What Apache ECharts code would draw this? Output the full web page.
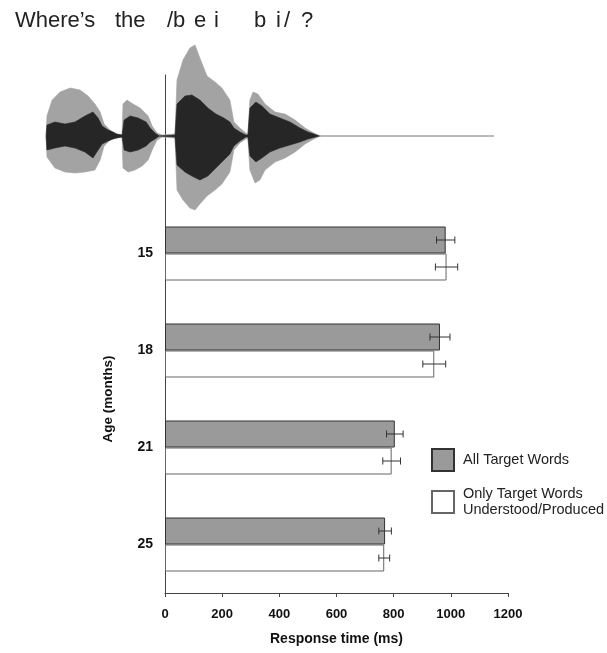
<!DOCTYPE html>
<html>
<head>
<meta charset="utf-8">
<script src="https://cdn.jsdelivr.net/npm/echarts@6/dist/echarts.min.js"></script>
<style>html,body{margin:0;padding:0;background:#fff}#c{width:607px;height:653px}</style>
</head>
<body>
<div id="c"></div>
<script>
// ---- Data ----
const ages = ['15', '18', '21', '25'];
const allWords = [982, 962, 804, 770];
const allWordsErr = [32, 35, 29, 22];
const onlyWords = [985, 942, 793, 767];
const onlyWordsErr = [39, 40, 31, 19];
const xTicks = [0, 200, 400, 600, 800, 1000, 1200];
const titleParts = ['Where\u2019s', 'the', '/b', 'e', 'i', 'b', 'i', '/', '?'];

// waveform envelope of "Where's the /beibi/?" (time in ms relative to word onset, amplitude in arbitrary units)
const lightUpper = [[-416,0],[-413,20],[-395,36],[-367,44],[-332,48],[-297,46],[-269,40],[-245,32],[-227,24],[-213,12],[-192,6],[-175,2],[-157,1],[-150,2],[-147,32],[-133,36],[-112,32],[-87,28],[-59,20],[-45,10],[-28,3],[-10,1],[35,2],[42,56],[63,76],[87,88],[105,91],[122,78],[147,60],[175,54],[199,48],[227,36],[241,14],[262,8],[283,3],[290,2],[297,36],[308,44],[325,42],[350,32],[385,24],[420,22],[455,16],[490,8],[514,4],[535,1],[545,0]];
const lightLower = [[-416,0],[-413,-21],[-385,-32],[-350,-36],[-315,-37],[-280,-36],[-245,-34],[-227,-24],[-213,-10],[-192,-4],[-175,-2],[-157,-1],[-150,-2],[-147,-32],[-129,-36],[-105,-34],[-80,-30],[-59,-24],[-45,-14],[-28,-4],[-10,-1],[35,-2],[42,-54],[63,-64],[87,-72],[105,-74],[122,-68],[147,-60],[175,-54],[199,-48],[227,-36],[241,-14],[262,-7],[283,-3],[290,-2],[297,-34],[315,-47],[332,-44],[350,-34],[385,-26],[420,-22],[455,-16],[490,-8],[514,-4],[535,-1],[545,0]];
const darkUpper = [[-416,0],[-413,11],[-385,14],[-350,12],[-315,14],[-280,20],[-252,24],[-234,18],[-220,10],[-199,6],[-182,4],[-168,2],[-150,1],[-143,16],[-122,20],[-94,18],[-66,14],[-52,8],[-35,3],[-20,0],[35,1],[42,32],[70,40],[94,41],[122,36],[150,28],[178,22],[206,18],[227,14],[241,8],[262,4],[283,1],[290,1],[297,28],[318,34],[339,30],[367,22],[402,18],[437,14],[472,8],[500,4],[521,2],[540,0]];
const darkLower = [[-416,0],[-413,-14],[-385,-12],[-350,-10],[-315,-12],[-280,-16],[-252,-22],[-234,-14],[-220,-8],[-199,-5],[-182,-3],[-168,-2],[-150,-1],[-143,-14],[-122,-16],[-94,-14],[-66,-10],[-52,-6],[-35,-3],[-20,0],[35,-1],[42,-29],[70,-36],[94,-40],[122,-44],[150,-40],[178,-32],[206,-24],[227,-18],[241,-10],[262,-5],[283,-1],[290,-1],[297,-20],[318,-26],[339,-22],[367,-16],[402,-12],[437,-9],[472,-6],[500,-3],[540,0]];
const baseline = [[-416,0],[1151,0]];

const FONT = '"Liberation Sans", Arial, Helvetica, sans-serif';
const chart = echarts.init(document.getElementById('c'), null, {renderer: 'canvas'});

function errRenderer(offset) {
  return function (params, api) {
    const lo = api.coord([api.value(0), api.value(2)]);
    const hi = api.coord([api.value(1), api.value(2)]);
    const y = lo[1] + offset;
    const st = {stroke: '#333', lineWidth: 1};
    return {type: 'group', children: [
      {type: 'line', shape: {x1: lo[0], y1: y, x2: hi[0], y2: y}, style: st},
      {type: 'line', shape: {x1: lo[0], y1: y - 3.5, x2: lo[0], y2: y + 3.5}, style: st},
      {type: 'line', shape: {x1: hi[0], y1: y - 3.5, x2: hi[0], y2: y + 3.5}, style: st}
    ]};
  };
}
const errAll = allWords.map((v, i) => [v - allWordsErr[i], v + allWordsErr[i], i]);
const errOnly = onlyWords.map((v, i) => [v - onlyWordsErr[i], v + onlyWordsErr[i], i]);

function wave(data, color, z) {
  return {type: 'line', xAxisIndex: 1, yAxisIndex: 1, data: data, symbol: 'none', clip: false,
    silent: true, z: z, lineStyle: {color: color, width: 0.6}, areaStyle: {color: color, opacity: 1, origin: 'auto'}};
}

// title pieces placed with the phonetic spacing of the original
const titleLefts = [15, 115, 167, 194, 214, 254, 276, 284, 301];
const titles = titleParts.map((t, i) => ({
  text: t, left: titleLefts[i], top: 10, padding: 0,
  textStyle: {fontFamily: FONT, fontSize: 22, fontWeight: 'normal', color: '#222'}
}));

const option = {
  animation: false,
  backgroundColor: '#fff',
  title: titles,
  legend: {
    orient: 'vertical', left: 431, top: 448, padding: 0, itemWidth: 22, itemHeight: 22, itemGap: 14,
    icon: 'rect',
    data: ['All Target Words', 'Only Target Words\nUnderstood/Produced'],
    textStyle: {fontFamily: FONT, fontSize: 14.5, color: '#222', lineHeight: 16, padding: [0, 0, 0, 4]}
  },
  grid: [
    {left: 165, right: 99, top: 205, bottom: 60},
    {left: 39.23, right: 99, top: 75, bottom: 448}
  ],
  xAxis: [
    {type: 'value', gridIndex: 0, min: 0, max: 1200, interval: 200,
      name: 'Response time (ms)', nameLocation: 'middle', nameGap: 39,
      nameTextStyle: {fontFamily: FONT, fontSize: 14, fontWeight: 'bold', color: '#111'},
      axisLine: {show: true, lineStyle: {color: '#444', width: 1}},
      axisTick: {show: true, length: 4, lineStyle: {color: '#444'}},
      axisLabel: {fontFamily: FONT, fontSize: 13, fontWeight: 'bold', color: '#111', margin: 15,
        formatter: v => xTicks.includes(v) ? String(v) : ''},
      splitLine: {show: false}},
    {type: 'value', gridIndex: 1, min: -440, max: 1200, show: false}
  ],
  yAxis: [
    {type: 'category', gridIndex: 0, data: ages, inverse: true,
      name: 'Age (months)', nameLocation: 'middle', nameGap: 50, nameRotate: 90,
      nameTextStyle: {fontFamily: FONT, fontSize: 13.5, fontWeight: 'bold', color: '#111'},
      axisLine: {show: true, lineStyle: {color: '#444', width: 1}},
      axisTick: {show: false},
      axisLabel: {fontFamily: FONT, fontSize: 14, fontWeight: 'bold', color: '#111', margin: 12}},
    {type: 'value', gridIndex: 1, min: -69, max: 61,
      axisLine: {show: true, onZero: true, lineStyle: {color: '#444', width: 1}},
      axisTick: {show: false}, axisLabel: {show: false}, splitLine: {show: false}}
  ],
  series: [
    {name: 'All Target Words', type: 'bar', data: allWords, barWidth: 27, barGap: '0%',
      itemStyle: {color: '#9a9a9a', borderColor: '#333', borderWidth: 1}},
    {name: 'Only Target Words\nUnderstood/Produced', type: 'bar', data: onlyWords, barWidth: 27, barGap: '0%',
      itemStyle: {color: '#fff', borderColor: '#666', borderWidth: 1}},
    {type: 'custom', renderItem: errRenderer(-13.5), data: errAll, encode: {x: [0, 1], y: 2}, z: 5, silent: true},
    {type: 'custom', renderItem: errRenderer(13.5), data: errOnly, encode: {x: [0, 1], y: 2}, z: 5, silent: true},
    wave(lightUpper, '#a3a3a3', 2),
    wave(lightLower, '#a3a3a3', 2),
    wave(darkUpper, '#262626', 3),
    wave(darkLower, '#262626', 3),
    {type: 'line', xAxisIndex: 1, yAxisIndex: 1, data: baseline, symbol: 'none', silent: true, z: 1,
      lineStyle: {color: '#777', width: 1}}
  ]
};
chart.setOption(option);
</script>
</body>
</html>
